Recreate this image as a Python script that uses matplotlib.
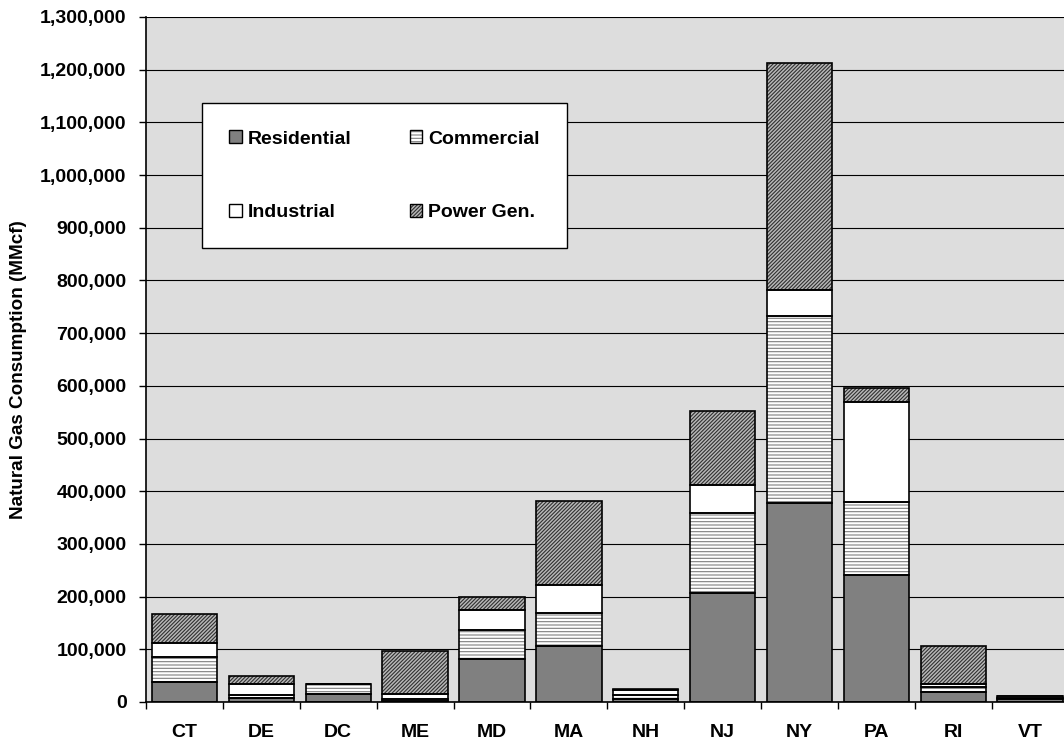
import matplotlib
matplotlib.use("Agg")
import matplotlib.pyplot as plt
from matplotlib.patches import Patch
from matplotlib.ticker import FuncFormatter, FixedLocator
import numpy as np

states = ["CT", "DE", "DC", "ME", "MD", "MA", "NH", "NJ", "NY", "PA", "RI", "VT"]
residential = [38500, 8300, 14500, 2500, 81600, 106000, 5000, 207000, 377000, 241500, 18400, 5000]
commercial = [47500, 4400, 19000, 2500, 55000, 62400, 8000, 151800, 356000, 138000, 10000, 3500]
industrial = [26500, 22200, 500, 10200, 37400, 54200, 10000, 52400, 48000, 190200, 5200, 2500]
power_gen = [54500, 13800, 0, 81600, 24700, 158400, 2000, 141700, 431000, 26300, 72700, 0]
series_names = ["Residential", "Commercial", "Industrial", "Power Gen."]
y_ticks = list(range(0, 1300001, 100000))

plt.rcParams["font.family"] = ["Liberation Sans", "DejaVu Sans"]
plt.rcParams["font.weight"] = "bold"
plt.rcParams["hatch.linewidth"] = 0.8

W, H = 1064, 743
fig = plt.figure(figsize=(W / 100, H / 100), dpi=100)
ax_left, ax_bottom = 146 / W, (H - 702) / H
ax_w, ax_h = (W - 146) / W, 685 / H
ax = fig.add_axes([ax_left, ax_bottom, ax_w, ax_h])
ax.set_facecolor("#DDDDDD")

x = np.arange(len(states))
bw = 0.85
styles = [
    dict(face="#808080", hcol="#808080", hatch=None),
    dict(face="white", hcol="#808080", hatch="-----"),
    dict(face="white", hcol="white", hatch=None),
    dict(face="#B8B8B8", hcol="#303030", hatch="/////////"),
]
data = [residential, commercial, industrial, power_gen]
bottom = np.zeros(len(states))
handles = []
for vals, st in zip(data, styles):
    vals = np.array(vals, dtype=float)
    ax.bar(x, vals, bw, bottom=bottom, color=st["face"], edgecolor=st["hcol"],
           hatch=st["hatch"], linewidth=0, zorder=2)
    ax.bar(x, vals, bw, bottom=bottom, fill=False, edgecolor="black",
           linewidth=1.2, zorder=3)
    bottom += vals
    handles.append((Patch(facecolor=st["face"], edgecolor=st["hcol"], hatch=st["hatch"], linewidth=0),
                    Patch(fill=False, edgecolor="black", linewidth=1.0)))

ax.set_xlim(-0.5, -0.5 + (W - 147) / 76.8)
ax.set_ylim(0, 1300000)
ax.yaxis.set_major_locator(FixedLocator(y_ticks))
ax.yaxis.set_major_formatter(FuncFormatter(lambda v, p: f"{int(v):,}"))
ax.yaxis.grid(True, color="black", linewidth=0.8)
ax.set_axisbelow(True)

ax.xaxis.set_major_locator(FixedLocator(np.arange(len(states) + 1) - 0.5))
ax.xaxis.set_minor_locator(FixedLocator(x))
ax.set_xticklabels([], minor=False)
ax.set_xticklabels(states, minor=True)
ax.tick_params(axis="x", which="major", length=5, width=1, direction="out")
ax.tick_params(axis="x", which="minor", length=0, pad=16, labelsize=14)
ax.tick_params(axis="y", which="major", length=5, width=1, direction="out", pad=9, labelsize=14)
for lbl in ax.get_xticklabels(minor=True) + ax.get_yticklabels():
    lbl.set_fontweight("bold")

for s in ["top", "right"]:
    ax.spines[s].set_visible(False)
ax.spines["left"].set_linewidth(1.2)
ax.spines["bottom"].set_linewidth(1.2)

fig.text(19 / W, 1 - 370 / H, "Natural Gas Consumption (MMcf)", rotation=90,
         ha="center", va="center", fontsize=13.6, fontweight="bold")

# legend laid out row by row: matplotlib fills columns first
order = [0, 2, 1, 3]
leg = fig.legend([handles[i] for i in order], [series_names[i] for i in order], ncol=2,
                 loc="upper left",
                 bbox_to_anchor=(202 / W, 1 - 103 / H), bbox_transform=fig.transFigure,
                 borderaxespad=0, fancybox=False, framealpha=1, edgecolor="black",
                 prop={"weight": "bold", "size": 14}, handlelength=0.65, handleheight=0.65,
                 handletextpad=0.3, columnspacing=3.0, labelspacing=2.9, borderpad=1.4)
leg.get_frame().set_linewidth(1.0)

fig.savefig("out.png", dpi=100)
